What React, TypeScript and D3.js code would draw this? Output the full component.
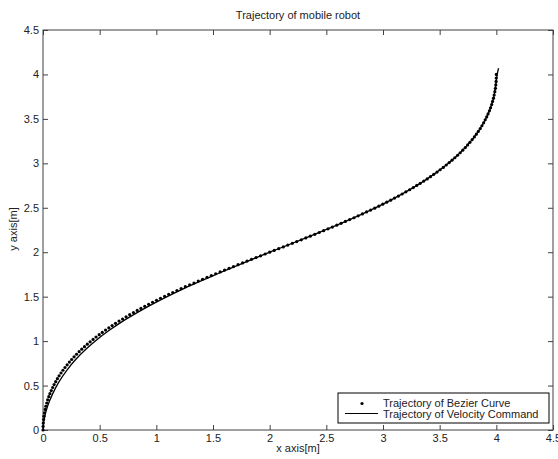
import * as d3 from "d3";
import { useEffect, useRef } from "react";

// Bezier curve samples (x, y in metres)
const bezierX = [
  0, 0.001, 0.002, 0.005, 0.008, 0.013, 0.019, 0.025, 0.033, 0.041, 0.051, 0.061, 0.073, 0.085, 0.098, 0.112,
  0.127, 0.142, 0.159, 0.176, 0.194, 0.213, 0.233, 0.253, 0.274, 0.296, 0.319, 0.342, 0.366, 0.391, 0.416,
  0.442, 0.468, 0.496, 0.523, 0.552, 0.581, 0.61, 0.64, 0.671, 0.702, 0.733, 0.765, 0.798, 0.831, 0.864,
  0.898, 0.932, 0.967, 1.002, 1.037, 1.073, 1.109, 1.145, 1.182, 1.219, 1.256, 1.294, 1.332, 1.37, 1.408,
  1.447, 1.485, 1.524, 1.563, 1.602, 1.642, 1.681, 1.721, 1.761, 1.8, 1.84, 1.88, 1.92, 1.96, 2.0,
  2.04, 2.08, 2.12, 2.16, 2.2, 2.239, 2.279, 2.319, 2.358, 2.398, 2.437, 2.476, 2.515, 2.553, 2.592,
  2.63, 2.668, 2.706, 2.744, 2.781, 2.818, 2.855, 2.891, 2.927, 2.963, 2.998, 3.033, 3.068, 3.102, 3.136,
  3.169, 3.202, 3.235, 3.267, 3.298, 3.329, 3.36, 3.39, 3.419, 3.448, 3.477, 3.504, 3.532, 3.558, 3.584,
  3.609, 3.634, 3.658, 3.681, 3.704, 3.726, 3.747, 3.767, 3.787, 3.806, 3.824, 3.841, 3.858, 3.873, 3.888,
  3.902, 3.915, 3.927, 3.939, 3.949, 3.959, 3.967, 3.975, 3.981, 3.987, 3.992, 3.995, 3.998, 3.999, 4.0,
];
const bezierY = [
  0, 0.04, 0.079, 0.118, 0.156, 0.194, 0.231, 0.267, 0.304, 0.339, 0.375, 0.409, 0.444, 0.478, 0.511, 0.544,
  0.577, 0.609, 0.641, 0.672, 0.703, 0.733, 0.764, 0.793, 0.823, 0.852, 0.881, 0.909, 0.937, 0.965, 0.992,
  1.019, 1.046, 1.072, 1.098, 1.124, 1.15, 1.175, 1.2, 1.225, 1.249, 1.273, 1.297, 1.321, 1.345, 1.368,
  1.391, 1.414, 1.437, 1.459, 1.482, 1.504, 1.526, 1.547, 1.569, 1.591, 1.612, 1.633, 1.654, 1.675, 1.696,
  1.717, 1.737, 1.758, 1.778, 1.799, 1.819, 1.839, 1.86, 1.88, 1.9, 1.92, 1.94, 1.96, 1.98, 2.0,
  2.02, 2.04, 2.06, 2.08, 2.1, 2.12, 2.14, 2.161, 2.181, 2.201, 2.222, 2.242, 2.263, 2.283, 2.304,
  2.325, 2.346, 2.367, 2.388, 2.409, 2.431, 2.453, 2.474, 2.496, 2.518, 2.541, 2.563, 2.586, 2.609, 2.632,
  2.655, 2.679, 2.703, 2.727, 2.751, 2.775, 2.8, 2.825, 2.85, 2.876, 2.902, 2.928, 2.954, 2.981, 3.008,
  3.035, 3.063, 3.091, 3.119, 3.148, 3.177, 3.207, 3.236, 3.267, 3.297, 3.328, 3.359, 3.391, 3.423, 3.456,
  3.489, 3.522, 3.556, 3.591, 3.625, 3.661, 3.696, 3.733, 3.769, 3.806, 3.844, 3.882, 3.921, 3.96, 4.0,
];

// velocity command trajectory (solid line)
const velX = [
  0, 0.01, 0.04, 0.086, 0.142, 0.21, 0.288, 0.378, 0.478, 0.588, 0.705, 0.831, 0.962, 1.1, 1.242,
  1.39, 1.54, 1.691, 1.845, 2.0, 2.16, 2.319, 2.476, 2.63, 2.781, 2.927, 3.068, 3.202, 3.329, 3.448,
  3.558, 3.658, 3.747, 3.824, 3.888, 3.939, 3.975, 3.995, 4.003, 4.012, 4.02,
];
const velY = [
  0, 0.118, 0.267, 0.409, 0.544, 0.672, 0.793, 0.909, 1.019, 1.124, 1.225, 1.321, 1.414, 1.504, 1.591,
  1.675, 1.758, 1.839, 1.92, 2.0, 2.08, 2.161, 2.242, 2.325, 2.409, 2.496, 2.586, 2.679, 2.775, 2.876,
  2.981, 3.091, 3.207, 3.328, 3.456, 3.591, 3.733, 3.882, 3.96, 4.03, 4.07,
];

const xTicks = [0, 0.5, 1, 1.5, 2, 2.5, 3, 3.5, 4, 4.5];
const yTicks = [0, 0.5, 1, 1.5, 2, 2.5, 3, 3.5, 4, 4.5];
const legendLabels = ["Trajectory of Bezier Curve", "Trajectory of Velocity Command"];

const FONT = "'Liberation Sans', Arial, sans-serif";

export default function App() {
  const svgRef = useRef<SVGSVGElement>(null);
  const width = 558;
  const height = 459;
  const left = 43;
  const right = 553;
  const top = 30;
  const bottom = 430;

  useEffect(() => {
    const svg = d3.select(svgRef.current);
    svg.selectAll("*").remove();

    const x = d3.scaleLinear().domain([0, 4.5]).range([left, right]);
    const y = d3.scaleLinear().domain([0, 4.5]).range([bottom, top]);

    svg.append("rect").attr("width", width).attr("height", height).attr("fill", "#fff");

    // title
    svg.append("text")
      .attr("x", (left + right) / 2)
      .attr("y", 19)
      .attr("text-anchor", "middle")
      .attr("font-family", FONT)
      .attr("font-size", 11)
      .attr("fill", "#222")
      .text("Trajectory of mobile robot");

    // axes with inward ticks
    const styleAxis = (g) => {
      g.select(".domain").remove();
      g.selectAll(".tick line").attr("stroke", "#404040");
      g.selectAll(".tick text").attr("font-family", FONT).attr("font-size", 11).attr("fill", "#222");
    };

    svg.append("g")
      .attr("transform", `translate(0,${bottom})`)
      .call(d3.axisBottom(x).tickValues(xTicks).tickFormat((d) => String(d)).tickSizeInner(-5).tickSizeOuter(0).tickPadding(4))
      .call(styleAxis);
    svg.append("g")
      .attr("transform", `translate(0,${top})`)
      .call(d3.axisTop(x).tickValues(xTicks).tickFormat(() => "").tickSizeInner(-5).tickSizeOuter(0))
      .call(styleAxis);
    svg.append("g")
      .attr("transform", `translate(${left},0)`)
      .call(d3.axisLeft(y).tickValues(yTicks).tickFormat((d) => String(d)).tickSizeInner(-5).tickSizeOuter(0).tickPadding(4))
      .call(styleAxis);
    svg.append("g")
      .attr("transform", `translate(${right},0)`)
      .call(d3.axisRight(y).tickValues(yTicks).tickFormat(() => "").tickSizeInner(-5).tickSizeOuter(0))
      .call(styleAxis);

    svg.append("rect")
      .attr("x", left)
      .attr("y", top)
      .attr("width", right - left)
      .attr("height", bottom - top)
      .attr("fill", "none")
      .attr("stroke", "#404040")
      .attr("stroke-width", 1);

    // axis labels
    svg.append("text")
      .attr("x", (left + right) / 2)
      .attr("y", 452)
      .attr("text-anchor", "middle")
      .attr("font-family", FONT)
      .attr("font-size", 11)
      .attr("fill", "#222")
      .text("x axis[m]");
    svg.append("text")
      .attr("transform", `translate(17,229) rotate(-90)`)
      .attr("text-anchor", "middle")
      .attr("font-family", FONT)
      .attr("font-size", 11)
      .attr("fill", "#222")
      .text("y axis[m]");

    // velocity command line
    const velPts = velX.map((v, i) => [v, velY[i]] as [number, number]);
    const line = d3.line().x((d) => x(d[0])).y((d) => y(d[1])).curve(d3.curveCatmullRom);
    svg.append("path")
      .attr("d", line(velPts))
      .attr("fill", "none")
      .attr("stroke", "#000")
      .attr("stroke-width", 1.3);

    // bezier dots
    svg.append("g")
      .selectAll("circle")
      .data(bezierX.map((v, i) => [v, bezierY[i]]))
      .enter()
      .append("circle")
      .attr("cx", (d) => x(d[0]))
      .attr("cy", (d) => y(d[1]))
      .attr("r", 1.6)
      .attr("fill", "#000");

    // legend
    const lg = svg.append("g").attr("transform", "translate(338,393)");
    lg.append("rect")
      .attr("width", 211)
      .attr("height", 30)
      .attr("fill", "#fff")
      .attr("stroke", "#000")
      .attr("stroke-width", 1);
    lg.append("circle").attr("cx", 24).attr("cy", 10.5).attr("r", 1.6).attr("fill", "#000");
    lg.append("line")
      .attr("x1", 7).attr("x2", 40)
      .attr("y1", 20.5).attr("y2", 20.5)
      .attr("stroke", "#000")
      .attr("stroke-width", 1);
    lg.selectAll(".lbl")
      .data(legendLabels)
      .enter()
      .append("text")
      .attr("class", "lbl")
      .attr("x", 45)
      .attr("y", (d, i) => 14 + i * 10.5)
      .attr("font-family", FONT)
      .attr("font-size", 11)
      .attr("fill", "#222")
      .text((d) => d);
  }, []);

  return (
    <svg
      ref={svgRef}
      width={width}
      height={height}
      style={{ position: "absolute", left: 0, top: 0, display: "block" }}
    />
  );
}
